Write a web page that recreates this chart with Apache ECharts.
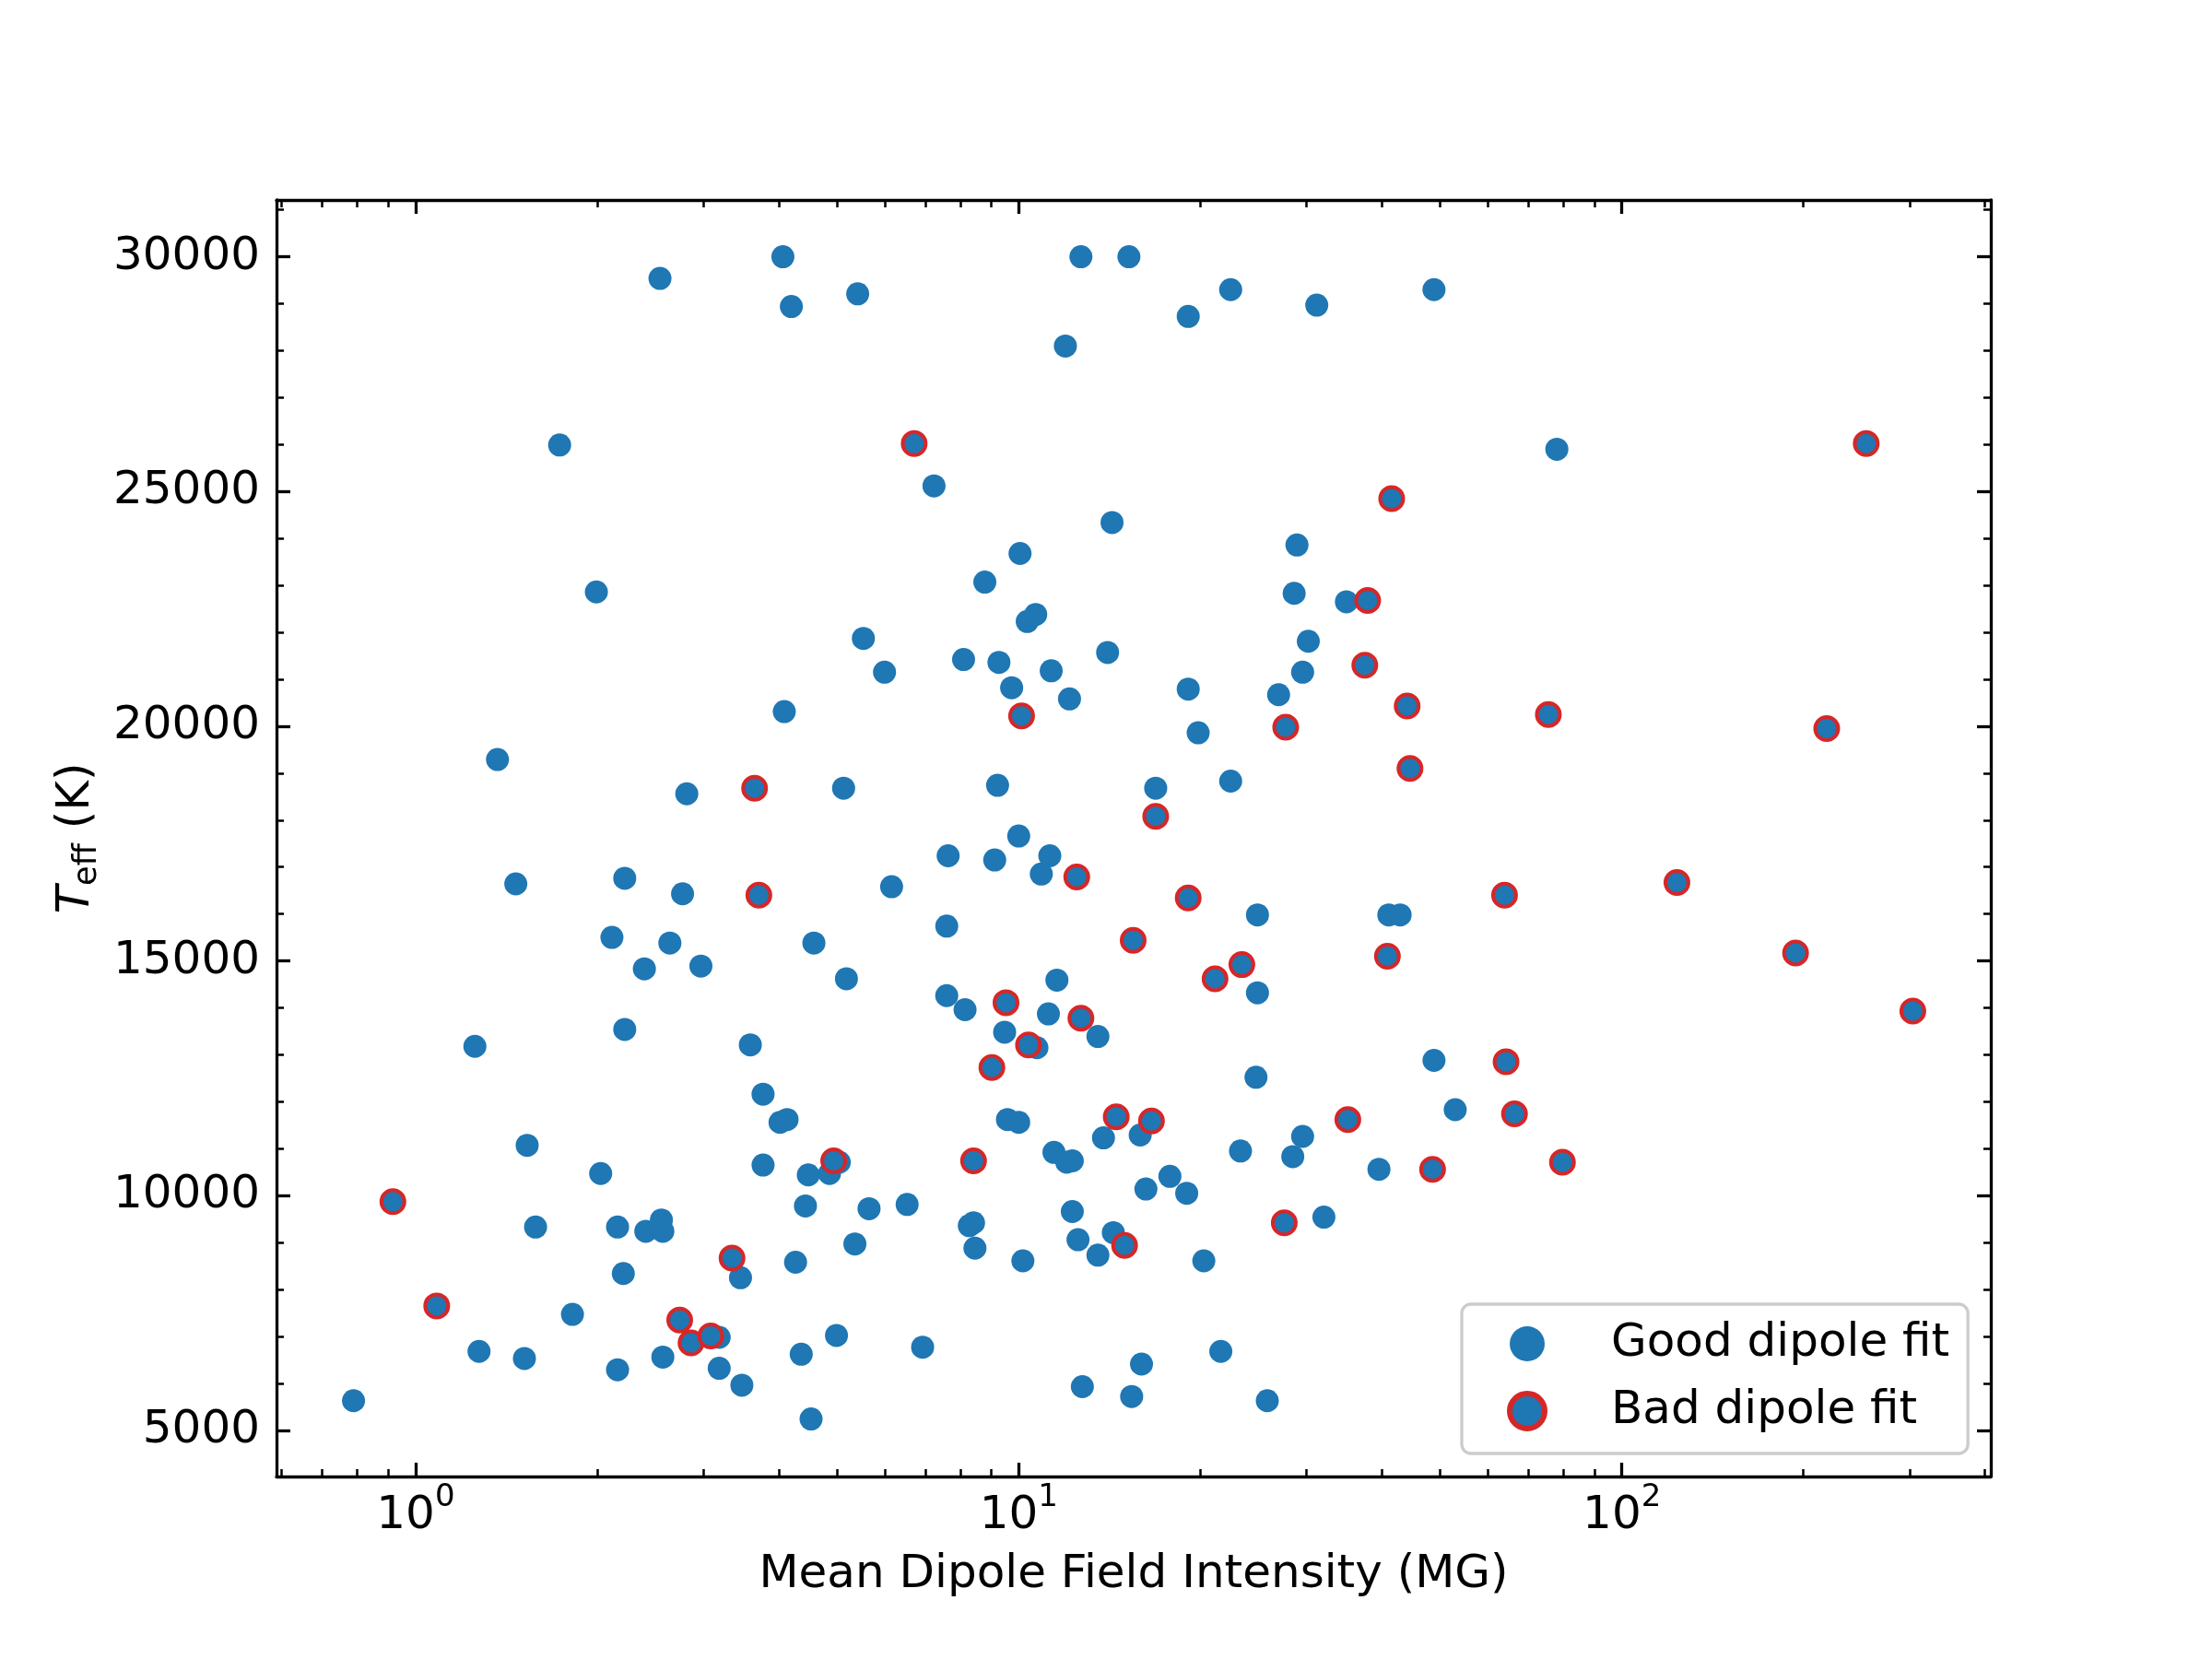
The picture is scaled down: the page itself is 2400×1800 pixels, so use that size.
<!DOCTYPE html>
<html>
<head>
<meta charset="utf-8">
<script src="https://cdn.jsdelivr.net/npm/echarts@6/dist/echarts.min.js"></script>
<style>
html, body { margin: 0; padding: 0; background: #fff; }
#main { width: 2400px; height: 1800px; }
</style>
</head>
<body>
<div id="main"></div>
<script>
// mean dipole field (MG) and Teff (K), good fits
var goodB = [0.789, 1.254, 1.274, 1.367, 1.466, 1.515, 1.531, 1.581, 1.733, 1.820,
	1.994, 2.027, 2.116, 2.162, 2.162, 2.210, 2.222, 2.222, 2.395, 2.408,
	2.542, 2.556, 2.570, 2.570, 2.640, 2.771, 2.816, 2.972, 3.187, 3.187,
	3.457, 3.475, 3.589, 3.768, 3.768, 4.020, 4.064, 4.086, 4.130, 4.198,
	4.266, 4.359, 4.430, 4.478, 4.526, 4.575, 4.856, 4.987, 5.041, 5.124,
	5.180, 5.350, 5.408, 5.526, 5.647, 5.991, 6.155, 6.531, 6.929, 7.236,
	7.597, 7.638, 7.597, 8.101, 8.147, 8.280, 8.416, 8.461, 8.786, 9.124,
	9.224, 9.273, 9.476, 9.579, 9.734, 10.0, 10.0, 10.05, 10.16, 10.33,
	10.67, 10.72, 10.90, 11.20, 11.26, 11.32, 11.44, 11.57, 11.95, 12.01,
	12.14, 12.27, 12.27, 12.54, 12.68, 12.75, 13.53, 13.53, 13.82, 14.04,
	14.28, 14.35, 15.23, 15.39, 15.90, 15.98, 16.25, 16.87, 17.81, 18.99,
	19.10, 19.10, 19.84, 20.27, 21.63, 22.46, 22.46, 23.32, 24.88, 24.88,
	24.74, 25.83, 26.97, 28.47, 28.62, 28.93, 29.56, 29.56, 30.21, 31.20,
	32.06, 34.94, 39.56, 41.08, 42.89, 48.81, 48.81, 52.93, 78.02];
var goodT = [5630, 13180, 6680, 19290, 16640, 6530, 11070, 9330, 25990, 7470,
	22860, 10470, 15500, 9330, 6290, 8340, 16760, 13540, 14830, 9240,
	29540, 9480, 9240, 6560, 15380, 16430, 18560, 14890, 6980, 6320,
	8250, 5960, 13210, 12160, 10650, 11560, 30000, 20310, 11620, 28940,
	8580, 6620, 9780, 10440, 5240, 15380, 10470, 7020, 10710, 18680,
	14620, 8970, 29210, 21870, 9720, 21150, 16580, 9810, 6770, 25120,
	14260, 17240, 15740, 21420, 13960, 9360, 9420, 8880, 23070, 17150,
	18740, 21360, 13480, 11620, 20820, 17660, 11560, 23680, 8610, 22230,
	22380, 13150, 16850, 13870, 17240, 21180, 10920, 14590, 28100, 10710,
	20580, 10740, 9660, 9060, 30000, 5930, 8730, 13390, 11230, 21570,
	24340, 9210, 30000, 5720, 11290, 6410, 10140, 18680, 10410, 10050,
	28730, 20790, 19860, 8610, 6680, 29300, 18830, 10950, 15980, 14320,
	12520, 5630, 20670, 10830, 22830, 23860, 11260, 21150, 21810, 28970,
	9540, 22650, 10560, 15980, 15980, 29300, 12880, 11830, 25900];

// bad fits
var badB = [0.917, 1.084, 2.741, 2.862, 3.086, 3.347, 3.648, 3.708, 4.934, 6.709,
	8.416, 9.026, 9.526, 10.11, 10.38, 12.48, 12.68, 14.51, 14.98, 15.48,
	16.60, 16.87, 19.10, 21.16, 23.44, 27.56, 27.71, 35.13, 37.48, 37.89,
	40.86, 41.53, 44.06, 44.54, 48.55, 63.90, 64.27, 66.37, 75.53, 79.71,
	123.4, 194.1, 218.6, 254.2, 303.7];
var badT = [9870, 7650, 7350, 6860, 7010, 8670, 18680, 16400, 10740, 26020,
	10740, 12730, 14110, 20220, 13210, 16790, 13780, 11680, 8940, 15440,
	11590, 18080, 16340, 14620, 14920, 9420, 19980, 11620, 21300, 22680,
	15100, 24850, 20430, 19100, 10560, 16400, 12850, 11740, 20250, 10710,
	16670, 15170, 19950, 26020, 13930];

var xMajor = [1, 10, 100];
var xMinor = [0.6, 0.7, 0.8, 0.9, 2, 3, 4, 5, 6, 7, 8, 9,
	20, 30, 40, 50, 60, 70, 80, 90, 200, 300, 400];
var yMajor = [5000, 10000, 15000, 20000, 25000, 30000];
var yMinor = [5000, 6000, 7000, 8000, 9000, 10000, 11000, 12000, 13000, 14000,
	15000, 16000, 17000, 18000, 19000, 20000, 21000, 22000, 23000, 24000,
	25000, 26000, 27000, 28000, 29000, 30000, 31000];

var XMIN = 0.588, XMAX = 409;
var YMIN = 4015, YMAX = 31210;
var FONT = 'DejaVu Sans';

function pairs(a, b) {
	return a.map(function (v, i) { return [v, b[i]]; });
}

function xAx(pos, ticks, len, width, labels) {
	return {
		type: 'log', logBase: 10, min: XMIN, max: XMAX, position: pos,
		axisLine: { show: labels !== null, onZero: false, lineStyle: { color: '#000', width: 3.3 } },
		axisTick: { show: true, inside: true, length: len, customValues: ticks,
			lineStyle: { color: '#000', width: width } },
		axisLabel: labels ? labels : { show: false },
		splitLine: { show: false },
		minorTick: { show: false }
	};
}

function yAx(pos, ticks, len, width, labels) {
	return {
		type: 'value', min: YMIN, max: YMAX, position: pos,
		axisLine: { show: labels !== null, onZero: false, lineStyle: { color: '#000', width: 3.3 } },
		axisTick: { show: true, inside: true, length: len, customValues: ticks,
			lineStyle: { color: '#000', width: width } },
		axisLabel: labels ? labels : { show: false },
		splitLine: { show: false }
	};
}

var xLabels = {
	show: true, customValues: xMajor, margin: 6,
	formatter: function (v) {
		return '{b|10}{s|' + Math.round(Math.log10(v)) + '}';
	},
	rich: {
		b: { fontSize: 50, fontFamily: FONT, color: '#000', lineHeight: 62, verticalAlign: 'bottom' },
		s: { fontSize: 34, fontFamily: FONT, color: '#000', lineHeight: 34, verticalAlign: 'top' }
	}
};
var yLabels = {
	show: true, customValues: yMajor, margin: 18,
	fontSize: 50, fontFamily: FONT, color: '#000',
	padding: [4, 0, 0, 0],
	formatter: function (v) { return String(v); }
};

var xAxes = [
	xAx('bottom', xMajor, 15, 3.3, xLabels),
	xAx('bottom', xMinor, 8, 2.5, null),
	xAx('top', xMajor, 15, 3.3, false),
	xAx('top', xMinor, 8, 2.5, null)
];
xAxes[0].name = 'Mean Dipole Field Intensity (MG)';
xAxes[0].nameLocation = 'middle';
xAxes[0].nameGap = 77;
xAxes[0].nameTextStyle = { fontSize: 50, fontFamily: FONT, color: '#000', lineHeight: 60 };

var yAxes = [
	yAx('left', yMajor, 15, 3.3, yLabels),
	yAx('left', yMinor, 8, 2.5, null),
	yAx('right', yMajor, 15, 3.3, false),
	yAx('right', yMinor, 8, 2.5, null)
];
yAxes[0].name = '{i|T}{s|eff}{n| (K)}';
yAxes[0].nameLocation = 'middle';
yAxes[0].nameRotate = 90;
yAxes[0].nameGap = 179;
yAxes[0].nameTextStyle = {
	rich: {
		i: { fontSize: 50, fontFamily: FONT, fontStyle: 'italic', color: '#000', lineHeight: 54, verticalAlign: 'top' },
		s: { fontSize: 35, fontFamily: FONT, color: '#000', lineHeight: 35, verticalAlign: 'bottom' },
		n: { fontSize: 50, fontFamily: FONT, color: '#000', lineHeight: 54, verticalAlign: 'top' }
	}
};

var myChart = echarts.init(document.getElementById('main'), null, { renderer: 'canvas' });
var option = {
	animation: false,
	backgroundColor: '#fff',
	grid: { left: 300, top: 217, width: 1860, height: 1385, containLabel: false },
	xAxis: xAxes,
	yAxis: yAxes,
	legend: {
		left: 1586, top: 1415,
		orient: 'vertical',
		icon: 'circle',
		itemWidth: 60, itemHeight: 38, itemGap: 17,
		padding: [15, 20, 18, 49],
		backgroundColor: 'rgba(255,255,255,0.8)',
		borderColor: '#cccccc', borderWidth: 3.3, borderRadius: 10,
		textStyle: { fontSize: 50, fontFamily: FONT, color: '#000', lineHeight: 56, padding: [0, 0, 0, 56] },
		data: [
			{ name: 'Good dipole fit' },
			{ name: 'Bad dipole fit', itemStyle: { borderWidth: 6, borderColor: '#d62728' } }
		]
	},
	series: [{
		name: 'Good dipole fit',
		type: 'scatter',
		symbol: 'circle',
		symbolSize: 25,
		itemStyle: { color: '#1f77b4', opacity: 1 },
		data: pairs(goodB, goodT)
	}, {
		name: 'Bad dipole fit',
		type: 'scatter',
		symbol: 'circle',
		symbolSize: 25,
		itemStyle: { color: '#1f77b4', borderColor: '#d62728', borderWidth: 4, opacity: 1 },
		data: pairs(badB, badT)
	}]
};
myChart.setOption(option);
</script>
</body>
</html>
